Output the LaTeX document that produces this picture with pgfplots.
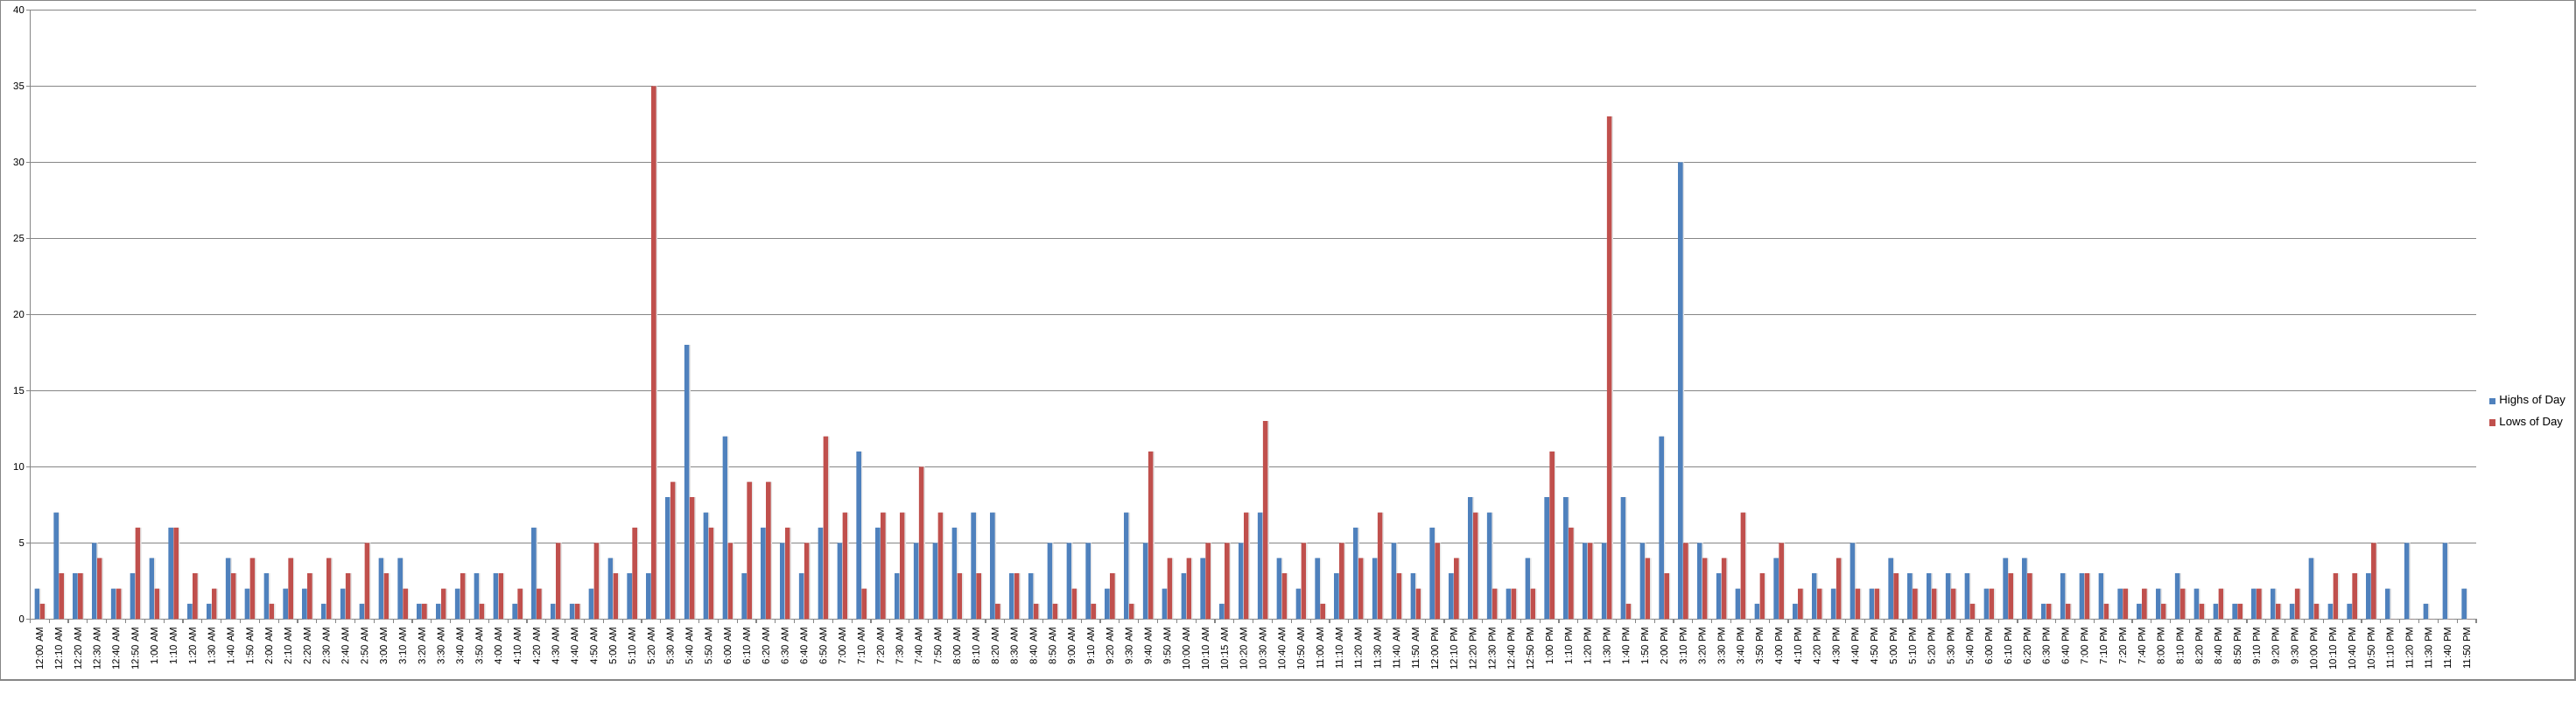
\documentclass[border=0pt]{standalone}
\usepackage{fontspec}
\setmainfont{Liberation Sans}
\usepackage{pgfplots}
\usepackage{pgfplotstable}
\pgfplotsset{compat=1.18}
\definecolor{hi}{HTML}{4F81BD}
\definecolor{lo}{HTML}{C0504D}
\definecolor{gridc}{HTML}{868686}

\pgfplotstableread{
i H L
0 2 1
1 7 3
2 3 3
3 5 4
4 2 2
5 3 6
6 4 2
7 6 6
8 1 3
9 1 2
10 4 3
11 2 4
12 3 1
13 2 4
14 2 3
15 1 4
16 2 3
17 1 5
18 4 3
19 4 2
20 1 1
21 1 2
22 2 3
23 3 1
24 3 3
25 1 2
26 6 2
27 1 5
28 1 1
29 2 5
30 4 3
31 3 6
32 3 35
33 8 9
34 18 8
35 7 6
36 12 5
37 3 9
38 6 9
39 5 6
40 3 5
41 6 12
42 5 7
43 11 2
44 6 7
45 3 7
46 5 10
47 5 7
48 6 3
49 7 3
50 7 1
51 3 3
52 3 1
53 5 1
54 5 2
55 5 1
56 2 3
57 7 1
58 5 11
59 2 4
60 3 4
61 4 5
62 1 5
63 5 7
64 7 13
65 4 3
66 2 5
67 4 1
68 3 5
69 6 4
70 4 7
71 5 3
72 3 2
73 6 5
74 3 4
75 8 7
76 7 2
77 2 2
78 4 2
79 8 11
80 8 6
81 5 5
82 5 33
83 8 1
84 5 4
85 12 3
86 30 5
87 5 4
88 3 4
89 2 7
90 1 3
91 4 5
92 1 2
93 3 2
94 2 4
95 5 2
96 2 2
97 4 3
98 3 2
99 3 2
100 3 2
101 3 1
102 2 2
103 4 3
104 4 3
105 1 1
106 3 1
107 3 3
108 3 1
109 2 2
110 1 2
111 2 1
112 3 2
113 2 1
114 1 2
115 1 1
116 2 2
117 2 1
118 1 2
119 4 1
120 1 3
121 1 3
122 3 5
123 2 0
124 5 0
125 1 0
126 5 0
127 2 0
}\data

\begin{document}
\begin{tikzpicture}
\begin{axis}[
  scale only axis, width=1397.35pt, height=348pt,
  ybar, bar width=2.7pt,
  ymin=0, ymax=40, xmin=-0.5, xmax=127.5,
  ytick={0,5,...,40},
  minor ytick={0,5,...,40},
  ymajorgrids, grid style={gridc, line width=0.6pt},
  axis x line*=bottom, axis y line*=left,
  axis line style={gridc, line width=0.6pt},
  tick style={gridc, line width=0.6pt},
  tick align=outside,
  major tick length=0pt,
  minor tick length=2.2pt,
  xtick={0,...,127},
  minor xtick={-0.5,0.5,...,127.5},
  /pgf/number format/assume math mode=true,
  yticklabel style={font=\fontsize{5.7}{6.5}\selectfont, inner xsep=3pt},
  xticklabel style={font=\fontsize{5.7}{6.5}\selectfont, rotate=90, anchor=east, inner xsep=4.5pt},
  xticklabels={12:00 AM,12:10 AM,12:20 AM,12:30 AM,12:40 AM,12:50 AM,1:00 AM,1:10 AM,1:20 AM,1:30 AM,1:40 AM,1:50 AM,2:00 AM,2:10 AM,2:20 AM,2:30 AM,2:40 AM,2:50 AM,3:00 AM,3:10 AM,3:20 AM,3:30 AM,3:40 AM,3:50 AM,4:00 AM,4:10 AM,4:20 AM,4:30 AM,4:40 AM,4:50 AM,5:00 AM,5:10 AM,5:20 AM,5:30 AM,5:40 AM,5:50 AM,6:00 AM,6:10 AM,6:20 AM,6:30 AM,6:40 AM,6:50 AM,7:00 AM,7:10 AM,7:20 AM,7:30 AM,7:40 AM,7:50 AM,8:00 AM,8:10 AM,8:20 AM,8:30 AM,8:40 AM,8:50 AM,9:00 AM,9:10 AM,9:20 AM,9:30 AM,9:40 AM,9:50 AM,10:00 AM,10:10 AM,10:15 AM,10:20 AM,10:30 AM,10:40 AM,10:50 AM,11:00 AM,11:10 AM,11:20 AM,11:30 AM,11:40 AM,11:50 AM,12:00 PM,12:10 PM,12:20 PM,12:30 PM,12:40 PM,12:50 PM,1:00 PM,1:10 PM,1:20 PM,1:30 PM,1:40 PM,1:50 PM,2:00 PM,3:10 PM,3:20 PM,3:30 PM,3:40 PM,3:50 PM,4:00 PM,4:10 PM,4:20 PM,4:30 PM,4:40 PM,4:50 PM,5:00 PM,5:10 PM,5:20 PM,5:30 PM,5:40 PM,6:00 PM,6:10 PM,6:20 PM,6:30 PM,6:40 PM,7:00 PM,7:10 PM,7:20 PM,7:40 PM,8:00 PM,8:10 PM,8:20 PM,8:40 PM,8:50 PM,9:10 PM,9:20 PM,9:30 PM,10:00 PM,10:10 PM,10:40 PM,10:50 PM,11:10 PM,11:20 PM,11:30 PM,11:40 PM,11:50 PM},
  legend style={at={(1.003,0.34)}, anchor=west, draw=none, fill=none,
    font=\fontsize{6.6}{7.5}\selectfont, row sep=2pt,
    /tikz/every even column/.append style={column sep=1pt}},
  legend cell align=left,
  legend image code/.code={\fill[#1] (0pt,-1.9pt) rectangle (3.8pt,1.9pt);},
]
\addplot[fill=black!10, draw=none, bar shift=-0.7pt, forget plot] table[x=i,y=H]{\data};
\addplot[fill=black!10, draw=none, bar shift=2.3pt, forget plot] table[x=i,y=L]{\data};
\addplot[fill=hi, draw=none, bar shift=-1.5pt] table[x=i,y=H]{\data};
\addplot[fill=lo, draw=none, bar shift=1.5pt] table[x=i,y=L]{\data};
\legend{Highs of Day, Lows of Day}
\coordinate (O) at (rel axis cs:0,0);
\end{axis}
\pgfresetboundingbox
\path[use as bounding box] ([shift={(-17.15pt,353.65pt)}]O) rectangle ([shift={(1454.35pt,-54.35pt)}]O);
\draw[gridc, line width=0.6pt] ([shift={(-16.85pt,353.35pt)}]O) rectangle ([shift={(1453.85pt,-34.85pt)}]O);
\end{tikzpicture}
\end{document}
